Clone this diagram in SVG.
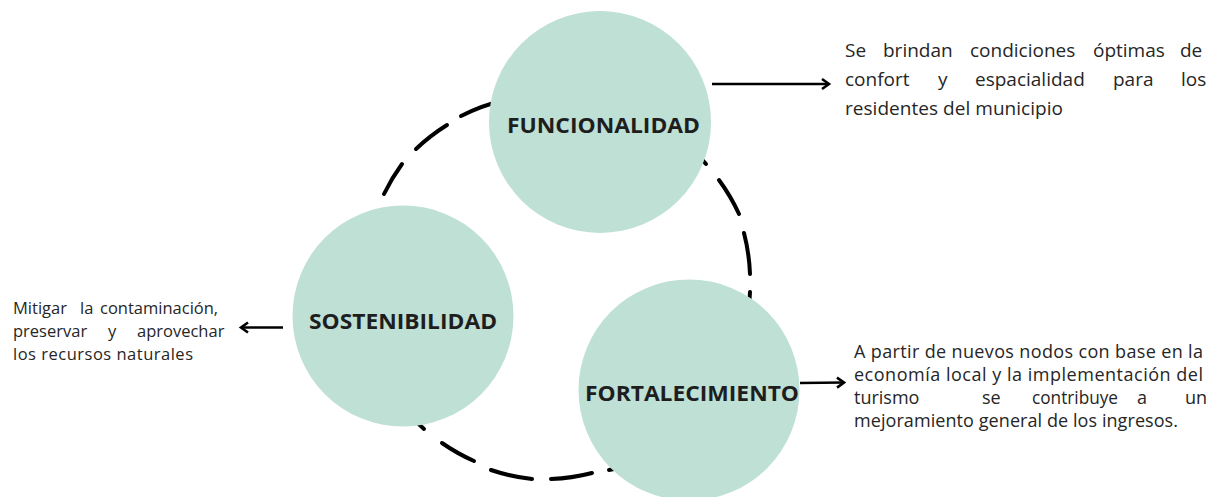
<svg xmlns="http://www.w3.org/2000/svg" width="1213" height="497" viewBox="0 0 1213 497">
  <style>
    .node { fill: #bee0d5; }
    .label { font-family: "Open Sans", "Liberation Sans", sans-serif; font-weight: bold; font-size: 22px; fill: #1e1e1e; }
    .body { font-family: "Open Sans", "Liberation Sans", sans-serif; fill: #262626; }
    .dash { fill: none; stroke: #000; stroke-width: 4; stroke-linecap: round; }
    .arrow { fill: none; stroke: #000; stroke-width: 2.5; marker-end: url(#head); }
  </style>
  <defs>
    <marker id="head" markerUnits="userSpaceOnUse" markerWidth="14" markerHeight="14" viewBox="0 0 14 14" refX="11" refY="7" orient="auto">
      <path d="M4,2 L11,7 L4,12" fill="none" stroke="#000" stroke-width="2.6" stroke-linejoin="miter"/>
    </marker>
  </defs>
  <rect width="1213" height="497" fill="#ffffff"/>

  <g id="connectors">
    <g id="cycle">
      <path class="dash" d="M384,194 A194,194 0 0 1 402,164"/>
      <path class="dash" d="M416,149 A194,194 0 0 1 447,125"/>
      <path class="dash" d="M461,116 A194,194 0 0 1 505,100"/>
      <path class="dash" d="M693,150 A194,194 0 0 1 706,164"/>
      <path class="dash" d="M719,180 A194,194 0 0 1 739,214"/>
      <path class="dash" d="M744,233 A194,194 0 0 1 750,274"/>
      <path class="dash" d="M750,292 A194,194 0 0 1 743,337"/>
      <path class="dash" d="M638,463 A194,194 0 0 1 609,470"/>
      <path class="dash" d="M592,473 A194,194 0 0 1 551,479"/>
      <path class="dash" d="M532,479 A194,194 0 0 1 491,470"/>
      <path class="dash" d="M474,461 A194,194 0 0 1 442,443"/>
      <path class="dash" d="M424,429 A194,194 0 0 1 407,412"/>
    </g>
  </g>

  <g id="node-funcionalidad">
    <circle class="node" cx="600" cy="122" r="111"/>
    <text class="label" x="507" y="133" textLength="193" lengthAdjust="spacingAndGlyphs">FUNCIONALIDAD</text>
  </g>
  <g id="node-sostenibilidad">
    <circle class="node" cx="403" cy="316" r="110.5"/>
    <text class="label" x="309" y="329" textLength="188" lengthAdjust="spacingAndGlyphs">SOSTENIBILIDAD</text>
  </g>
  <g id="node-fortalecimiento">
    <circle class="node" cx="689" cy="390" r="110.5"/>
    <text class="label" x="585" y="401" textLength="214" lengthAdjust="spacingAndGlyphs">FORTALECIMIENTO</text>
  </g>

  <g id="arrows">
    <line class="arrow" x1="712" y1="84" x2="829" y2="84"/>
    <line class="arrow" x1="283" y1="327.5" x2="241" y2="327.5"/>
    <line class="arrow" x1="800" y1="383" x2="844" y2="382.5"/>
  </g>

  <g id="text-funcionalidad" class="body" font-size="19">
    <text y="57"><tspan x="845">Se</tspan><tspan x="883">brindan</tspan><tspan x="970">condiciones</tspan><tspan x="1093">óptimas</tspan><tspan x="1180">de</tspan></text>
    <text y="86"><tspan x="845">confort</tspan><tspan x="938">y</tspan><tspan x="975">espacialidad</tspan><tspan x="1113">para</tspan><tspan x="1181">los</tspan></text>
    <text x="845" y="115" textLength="218" lengthAdjust="spacing">residentes del municipio</text>
  </g>

  <g id="text-sostenibilidad" class="body" font-size="16.5">
    <text y="314"><tspan x="13">Mitigar</tspan><tspan x="80">la</tspan><tspan x="100">contaminación,</tspan></text>
    <text y="337"><tspan x="13">preservar</tspan><tspan x="108">y</tspan><tspan x="137">aprovechar</tspan></text>
    <text x="13" y="360" textLength="180" lengthAdjust="spacing">los recursos naturales</text>
  </g>

  <g id="text-fortalecimiento" class="body" font-size="18">
    <text x="854" y="358" textLength="349" lengthAdjust="spacing">A partir de nuevos nodos con base en la</text>
    <text x="854" y="381" textLength="349" lengthAdjust="spacing">economía local y la implementación del</text>
    <text x="854" y="404">turismo</text>
    <text x="982" y="404">se</text>
    <text x="1032" y="404" textLength="86" lengthAdjust="spacingAndGlyphs">contribuye</text>
    <text x="1137" y="404">a</text>
    <text x="1185" y="404">un</text>
    <text x="854" y="427" textLength="324" lengthAdjust="spacing">mejoramiento general de los ingresos.</text>
  </g>
</svg>
